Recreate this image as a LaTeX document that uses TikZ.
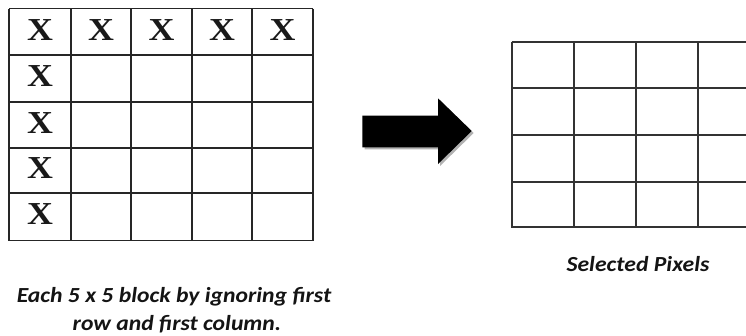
\documentclass[tikz,border=0pt]{standalone}
\usepackage{fontspec}
\setmainfont{Liberation Serif}
\newfontfamily\capfont{Carlito}
\begin{document}
\begin{tikzpicture}[x=1pt,y=-1pt,
  gridline/.style={line width=1.5pt,draw=black!85},
  gridlineR/.style={line width=1.8pt,draw=black!80},
  xmark/.style={font=\fontsize{32}{32}\selectfont\bfseries,inner sep=0pt,xscale=1.12,text=black!90},
  capt/.style={font=\capfont\fontsize{21.5}{24}\selectfont\bfseries\itshape,text=black!92,anchor=base,inner sep=0pt,xscale=1.1}]
\useasboundingbox (0,0) rectangle (746,335);
% left grid
\foreach \x in {9,71,131,192,252,313} \draw[gridline] (\x,8.5) -- (\x,240.5);
\foreach \y in {8.5,55,102,148,193,240.5} \draw[gridline] (9,\y) -- (313,\y);
% X marks
\node[xmark] (x11) at (40,30) {X};
\node[xmark] (x12) at (101,30) {X};
\node[xmark] (x13) at (161.5,30) {X};
\node[xmark] (x14) at (222,30) {X};
\node[xmark] (x15) at (282.5,30) {X};
\node[xmark] (x21) at (40,76) {X};
\node[xmark] (x31) at (40,123) {X};
\node[xmark] (x41) at (40,168.5) {X};
\node[xmark] (x51) at (40,214) {X};
% arrow shadow and arrow
\fill[black!30] (364.5,117.7) -- (440,117.7) -- (440,100.3) -- (473.7,133) -- (440,166) -- (440,149.3) -- (364.5,149.3) -- cycle;
\fill[black] (362.3,115.7) -- (438,115.7) -- (438,98.3) -- (471.7,131) -- (438,164) -- (438,147.3) -- (362.3,147.3) -- cycle;
% right grid
\foreach \x in {511.7,574,636,697.7} \draw[gridlineR] (\x,41.7) -- (\x,227.5);
\foreach \y in {41.7,88.3,135,181.7,226.7} \draw[gridlineR] (511.7,\y) -- (746,\y);
% captions
\node[capt] (sel) at (638,271) {Selected Pixels};
\node[capt] (cap1) at (174,302.7) {Each 5 x 5 block by ignoring first};
\node[capt] (cap2) at (177,330) {row and first column.};
\end{tikzpicture}
\end{document}
